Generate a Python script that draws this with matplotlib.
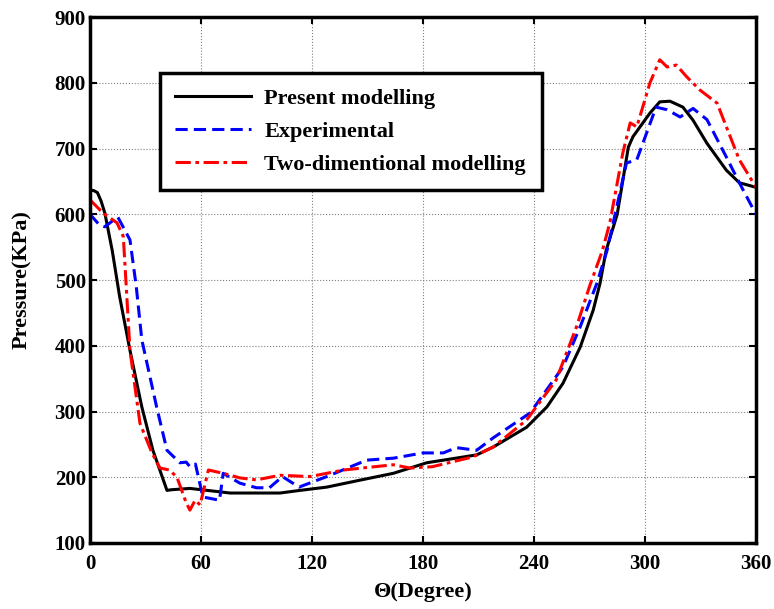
import matplotlib
matplotlib.use("Agg")
import matplotlib.pyplot as plt

plt.rcParams['font.family'] = ['Liberation Serif', 'DejaVu Serif']
plt.rcParams['font.weight'] = 'bold'

# Present modelling
theta_present = [0, 2, 4, 6, 8, 12, 16, 21.6, 28, 34, 41.6, 44, 54, 66.5, 75.7, 92, 102.7, 113.5,
                 128, 145, 164, 182, 209, 218, 236, 247, 255.7, 265, 272, 275.7, 279, 285, 291,
                 293.5, 302.7, 308, 313.5, 320.5, 326, 333.5, 344, 351, 360]
p_present = [637, 636, 633, 620, 602, 545, 475, 393, 307, 241, 180, 181, 183, 179, 176, 176, 176,
             180, 185, 195, 206, 222, 234, 246, 276, 307, 343, 398, 454, 495, 545, 600, 702,
             718, 754, 771, 772, 763, 743, 708, 667, 648, 641]

# Experimental
theta_exp = [0, 5, 8, 15, 21.6, 25, 28, 36, 41.6, 48.6, 52, 54, 57, 61, 70, 72, 81, 90, 97,
             104, 113, 128, 149.5, 164, 180, 191, 198, 209, 218, 238, 255.7, 265, 274, 279.5,
             290, 295.6, 306, 312, 319, 326, 333.5, 344, 351, 360]
p_exp = [600, 584, 581, 596, 561, 490, 409, 307, 241, 222, 223, 216, 220, 170, 165, 206, 191,
         184, 184, 201, 185, 201, 226, 229, 237, 237, 245, 241, 260, 298, 368, 429, 495, 545,
         678, 683, 763, 759, 748, 761, 744, 687, 648, 600]

# Two-dimentional modelling
theta_2d = [0, 7, 14.6, 18, 21.6, 27, 33.5, 37.8, 43, 47, 52, 54, 56.8, 59.5, 64, 72, 81, 90,
            102.7, 119, 137, 164, 173, 185, 207, 218, 236, 252, 263, 270, 277, 281, 288, 292,
            295.6, 302.7, 308, 312, 317, 322.6, 329.7, 339, 344, 351, 360]
p_2d = [622, 602, 587, 566, 393, 282, 237, 214, 211, 200, 161, 150, 165, 158, 211, 206, 199,
        196, 203, 201, 211, 219, 214, 216, 231, 246, 287, 348, 429, 490, 545, 587, 693, 739,
        733, 800, 835, 824, 827, 809, 789, 769, 733, 683, 641]

xticks = [0, 60, 120, 180, 240, 300, 360]
yticks = [100, 200, 300, 400, 500, 600, 700, 800, 900]

fig = plt.figure(figsize=(7.74, 6.09), dpi=100)
ax = fig.add_axes([0.1163, 0.1084, 0.8604, 0.8636])

ax.plot(theta_present, p_present, color='black', lw=2.2, label='Present modelling')
ax.plot(theta_exp, p_exp, color='blue', lw=2.2, ls=(0, (4, 2)), label='Experimental')
ax.plot(theta_2d, p_2d, color='red', lw=2.2, ls=(0, (5, 1.5, 1.2, 1.5)),
        label='Two-dimentional modelling')

ax.set_xlim(0, 360)
ax.set_ylim(100, 900)
ax.set_xticks(xticks)
ax.set_yticks(yticks)
ax.grid(True, color='gray', ls=':', lw=0.8)
ax.tick_params(direction='in', length=5, width=1.5, top=True, right=True, labelsize=15)
ax.tick_params(axis='x', pad=8)
ax.tick_params(axis='y', pad=3)
for lab in ax.get_xticklabels() + ax.get_yticklabels():
    lab.set_fontweight('bold')
for s in ax.spines.values():
    s.set_linewidth(2.5)

ax.set_xlabel('Θ(Degree)', fontsize=16, fontweight='bold', labelpad=6)
ax.set_ylabel('Pressure(KPa)', fontsize=16, fontweight='bold', labelpad=16)

leg = ax.legend(loc='upper left', bbox_to_anchor=(0.105, 0.8935), borderaxespad=0,
                fancybox=False, edgecolor='black', framealpha=1, handlelength=3.4,
                handletextpad=0.6, prop={'size': 16, 'weight': 'bold'}, borderpad=0.7,
                labelspacing=0.55)
leg.get_frame().set_linewidth(2.5)

fig.savefig('out.png', dpi=100)
